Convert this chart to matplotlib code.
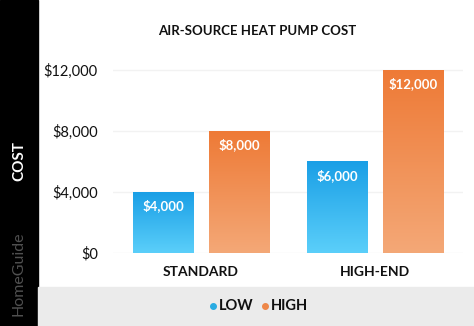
import matplotlib as mpl
mpl.use('Agg')

import matplotlib.pyplot as plt
import numpy as np
from matplotlib.patches import Rectangle
from matplotlib.colors import LinearSegmentedColormap

# data
categories = ["STANDARD", "HIGH-END"]
low_cost = [4000, 6000]
high_cost = [8000, 12000]
series_names = ["LOW", "HIGH"]
yticks = [0, 4000, 8000, 12000]
ytick_labels = ["$0", "$4,000", "$8,000", "$12,000"]

W, H = 474, 326
fig = plt.figure(figsize=(W / 100, H / 100), dpi=100)
fig.patch.set_facecolor('white')

# background pieces in pixel coords
bg = fig.add_axes([0, 0, 1, 1], zorder=0)
bg.set_xlim(0, W)
bg.set_ylim(H, 0)
bg.axis('off')
bg.add_patch(Rectangle((0, 0), 38, H, color='#000000'))
bg.add_patch(Rectangle((38, 287), W - 38, H - 287, color='#ebebeb'))

plt.rcParams['font.family'] = ['Lato', 'DejaVu Sans']

fig.text(19 / W, 1 - 161 / H, "COST", rotation=90, color='white', fontsize=11,
         fontweight='bold', ha='center', va='center')
fig.text(19 / W, 1 - 274 / H, "HomeGuide", rotation=90, color='#505050', fontsize=11.5,
         ha='center', va='center')
fig.text(257 / W, 1 - 31 / H, "AIR-SOURCE HEAT PUMP COST", fontsize=9.5,
         fontweight='bold', ha='center', va='center', color='#111111')

# legend
leg_cols = ['#29abe2', '#ee8748']
leg_x = [213, 265]
for name, c, lx in zip(series_names, leg_cols, leg_x):
    bg.plot(lx, 306, 'o', color=c, markersize=4)
    bg.text(lx + 6, 306, name, fontsize=10.5, fontweight='bold', color='#111111',
            ha='left', va='center')

# main axes
ax = fig.add_axes([113 / W, 73 / H, 350 / W, 183 * 1.02 / H], zorder=1)
ax.patch.set_alpha(0)
x = np.arange(len(categories))
bw = 0.345
off = 0.218

blue = LinearSegmentedColormap.from_list('b', ['#5bcffa', '#1a9fe6'])
orange = LinearSegmentedColormap.from_list('o', ['#f4a877', '#ee7a36'])

bars_low = ax.bar(x - off, low_cost, bw, color='none')
bars_high = ax.bar(x + off, high_cost, bw, color='none')

grad = np.linspace(0, 1, 256).reshape(-1, 1)
for bars, cmap in ((bars_low, blue), (bars_high, orange)):
    for r in bars:
        x0, w, h = r.get_x(), r.get_width(), r.get_height()
        ax.imshow(grad, extent=[x0, x0 + w, 0, h], origin='lower', aspect='auto',
                  cmap=cmap, zorder=2)
        ax.annotate("${:,.0f}".format(h), (x0 + w / 2, h), xytext=(0, -10),
                    textcoords='offset points', ha='center', va='center',
                    color='white', fontsize=9.5, fontweight='bold', zorder=3)

ax.set_xlim(-0.506, 1.506)
ax.set_ylim(0, 12000 * 1.02)
ax.set_yticks(yticks)
ax.set_yticklabels(ytick_labels, fontsize=10.5, color='#111111')
ax.set_xticks(x)
ax.set_xticklabels(categories, fontsize=10, fontweight='bold', color='#111111')
ax.tick_params(length=0)
ax.tick_params(axis='y', pad=11)
ax.tick_params(axis='x', pad=9)
ax.grid(axis='y', color='#f2f2f2', linewidth=1)
ax.set_axisbelow(True)
for s in ax.spines.values():
    s.set_visible(False)

plt.savefig("out.png", dpi=100)
